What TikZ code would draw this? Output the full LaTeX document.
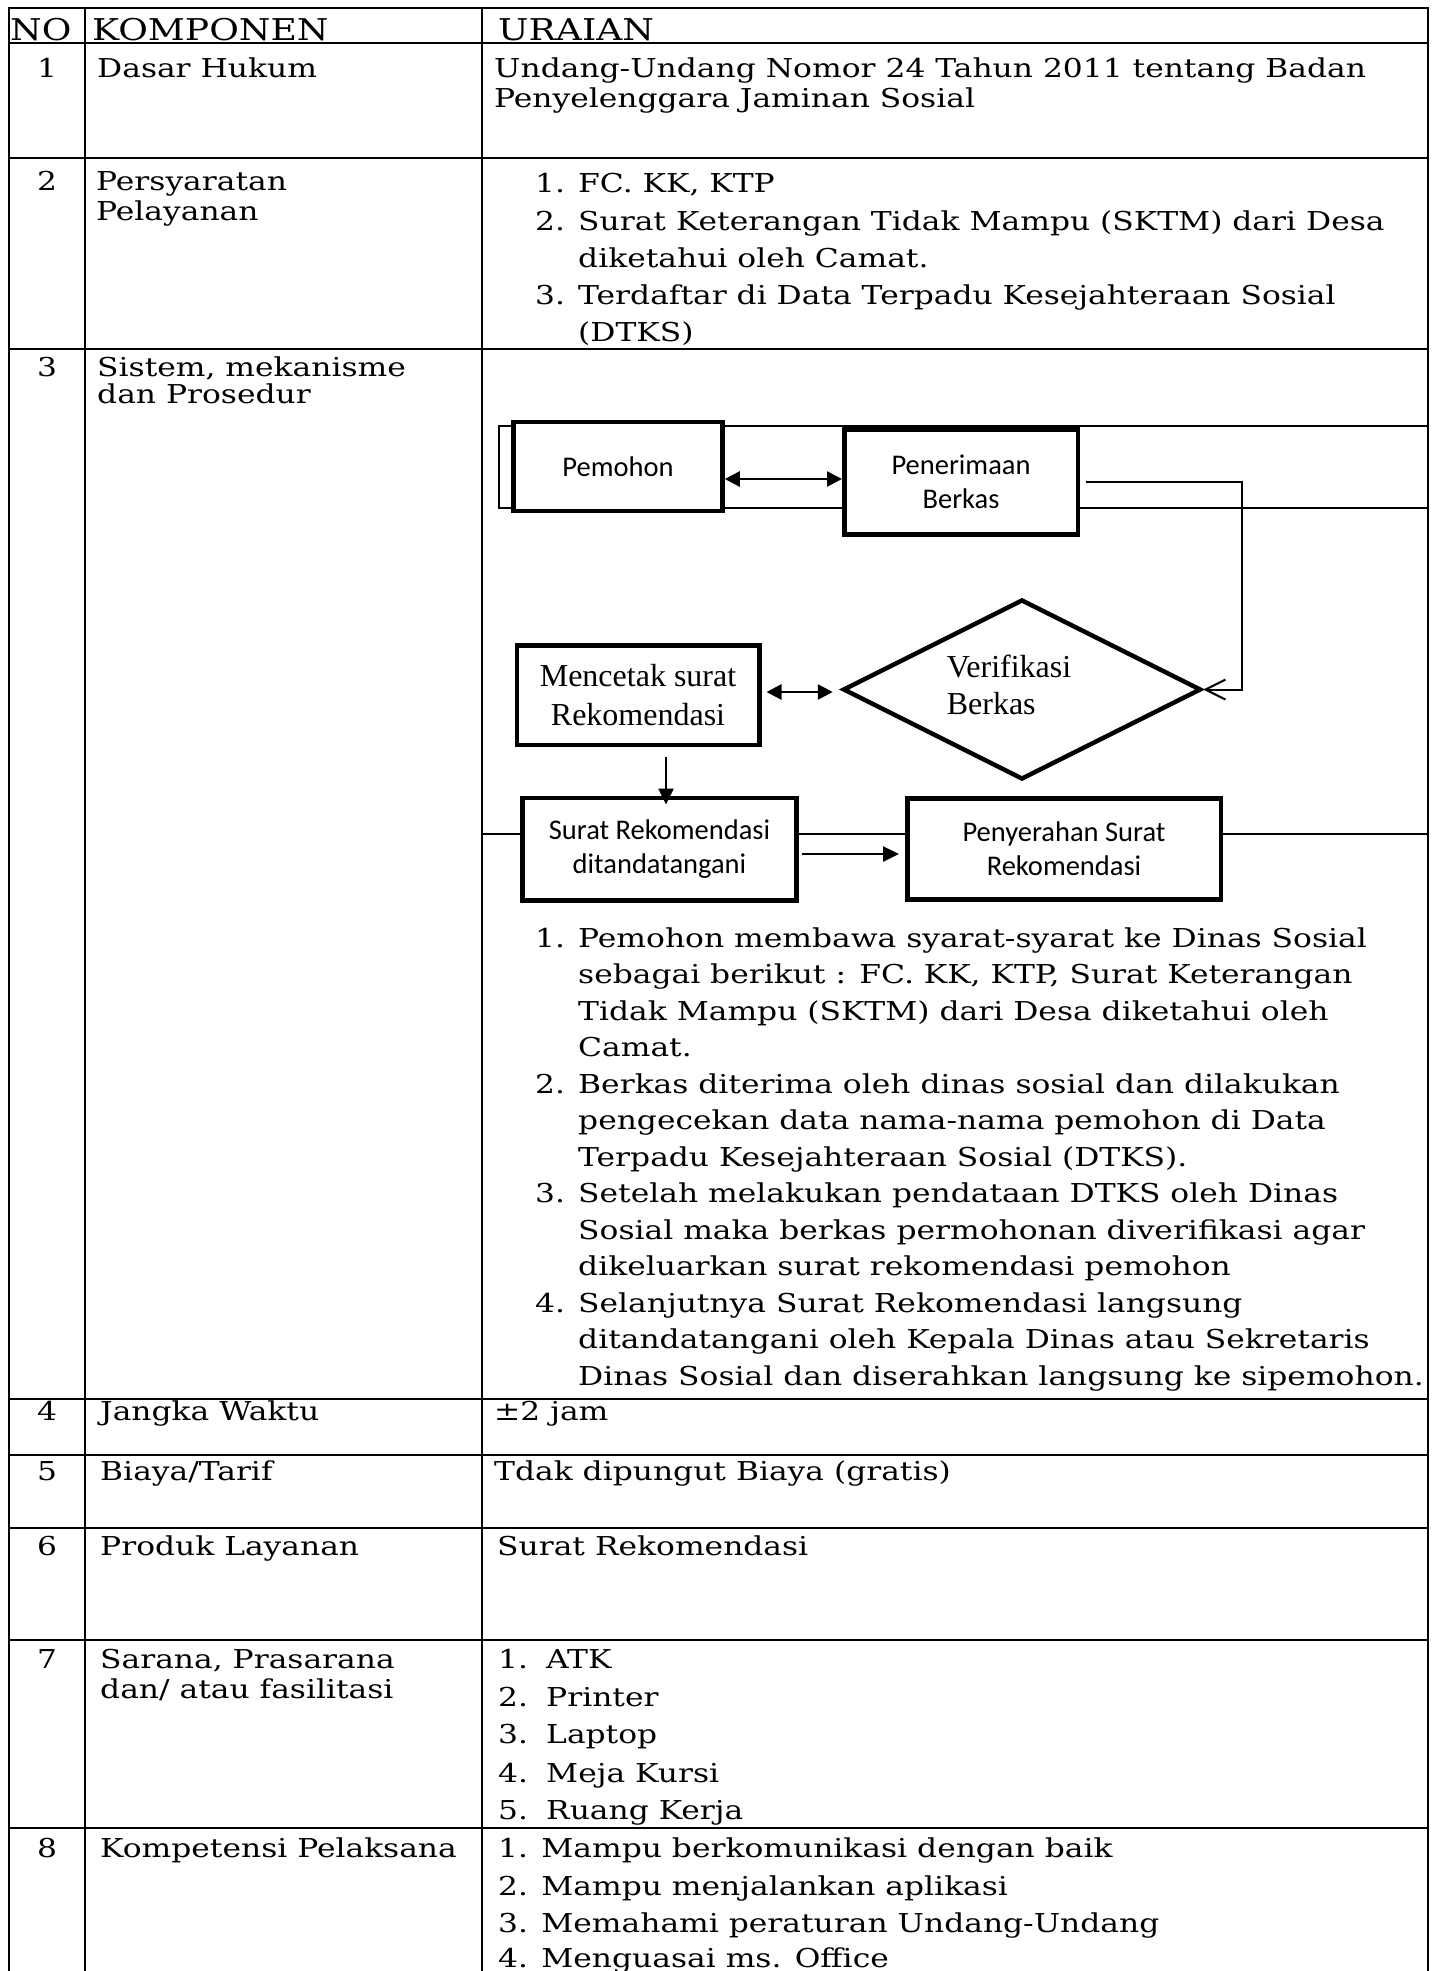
\documentclass[tikz,border=0pt]{standalone}
\usepackage{fontspec}
\newfontfamily\bodyf[FakeStretch=1.205]{DejaVu Serif}
\newfontfamily\calf{Carlito}
\newfontfamily\timesf{Liberation Serif}
\usetikzlibrary{arrows.meta,shapes.geometric}
\tikzset{
  grid/.style={line width=2.5pt},
  thinl/.style={line width=2pt},
  txt/.style={inner sep=0pt, anchor=base west, font=\bodyf\fontsize{26pt}{30pt}\selectfont},
  num/.style={inner sep=0pt, anchor=base, font=\bodyf\fontsize{26pt}{30pt}\selectfont},
  hd/.style={inner sep=0pt, anchor=base west, font=\bodyf\fontsize{30pt}{34pt}\selectfont},
  cbox/.style={draw, line width=4.5pt, fill=white, inner sep=0pt, align=center, font=\calf\fontsize{28.5pt}{34pt}\selectfont},
  tbox/.style={draw, line width=4.5pt, fill=white, inner sep=0pt, align=center, font=\timesf\fontsize{32pt}{39pt}\selectfont},
  dia/.style={draw, diamond, aspect=2, line width=4.5pt, fill=white, inner sep=0pt, minimum width=358pt, minimum height=180pt},
  dbl/.style={{Triangle[length=15pt,width=15pt]}-{Triangle[length=15pt,width=15pt]}, line width=2.5pt},
  arr/.style={-{Triangle[length=16pt,width=15pt]}, line width=2.5pt},
  openarr/.style={-{Straight Barb[length=20pt,width=20pt]}, line width=2pt},
}
\begin{document}
\begin{tikzpicture}[x=1pt,y=-1pt]
\useasboundingbox (0,0) rectangle (1435,1971);
% table grid
\foreach \y in {8,43,158,349,1399,1455,1528,1640,1828}
  \draw[grid] (8,\y) -- (1429,\y);
\foreach \x in {9,85,482,1428}
  \draw[grid] (\x,7) -- (\x,1971);
% header
\node[hd] (hno) at (10,40) {NO};
\node[hd] (hkomp) at (92,40) {KOMPONEN};
\node[hd] (hur) at (498,40) {URAIAN};
% row numbers
\foreach \n/\y in {1/77,2/190,3/376,4/1420,5/1480,6/1555,7/1668,8/1857}
  \node[num] (no\n) at (47,\y) {\n};
% left column
\node[txt] (k1) at (97,77) {Dasar Hukum};
\node[txt] (k2a) at (96,190) {Persyaratan};
\node[txt] (k2b) at (96,220) {Pelayanan};
\node[txt] (k3a) at (97,376) {Sistem, mekanisme};
\node[txt] (k3b) at (97,403) {dan Prosedur};
\node[txt] (k4) at (100,1420) {Jangka Waktu};
\node[txt] (k5) at (100,1480) {Biaya/Tarif};
\node[txt] (k6) at (100,1555) {Produk Layanan};
\node[txt] (k7a) at (100,1668) {Sarana, Prasarana};
\node[txt] (k7b) at (100,1698) {dan/ atau fasilitasi};
\node[txt] (k8) at (100,1857) {Kompetensi Pelaksana};
% row 1
\node[txt] (u1a) at (494,77) {Undang-Undang Nomor 24 Tahun 2011 tentang Badan};
\node[txt] (u1b) at (494,107) {Penyelenggara Jaminan Sosial};
% row 2
\foreach \y/\n [count=\i] in {192/1.,230/2.,304/3.}
  \node[txt] (u2n\i) at (535,\y) {\n};
\foreach \y/\t [count=\i] in {192/{FC. KK, KTP},230/{Surat Keterangan Tidak Mampu (SKTM) dari Desa},267/{diketahui oleh Camat.},304/{Terdaftar di Data Terpadu Kesejahteraan Sosial},341/{(DTKS)}}
  \node[txt] (u2t\i) at (578,\y) {\t};
% row 3 list
\foreach \y/\n [count=\i] in {947/1.,1093/2.,1202.5/3.,1312/4.}
  \node[txt] (u3n\i) at (535,\y) {\n};
\foreach \y/\t [count=\i] in {947/{Pemohon membawa syarat-syarat ke Dinas Sosial},983.5/{sebagai berikut : FC. KK, KTP, Surat Keterangan},1020/{Tidak Mampu (SKTM) dari Desa diketahui oleh},1056.5/{Camat.},1093/{Berkas diterima oleh dinas sosial dan dilakukan},1129.5/{pengecekan data nama-nama pemohon di Data},1166/{Terpadu Kesejahteraan Sosial (DTKS).},1202.5/{Setelah melakukan pendataan DTKS oleh Dinas},1239/{Sosial maka berkas permohonan diverifikasi agar},1275.5/{dikeluarkan surat rekomendasi pemohon},1312/{Selanjutnya Surat Rekomendasi langsung},1348.5/{ditandatangani oleh Kepala Dinas atau Sekretaris},1385/{Dinas Sosial dan diserahkan langsung ke sipemohon.}}
  \node[txt] (u3t\i) at (578,\y) {\t};
% rows 4-6
\node[txt] (u4) at (494,1420) {±2 jam};
\node[txt] (u5) at (494,1480) {Tdak dipungut Biaya (gratis)};
\node[txt] (u6) at (497,1555) {Surat Rekomendasi};
% row 7
\foreach \y/\n [count=\i] in {1668/1.,1706/2.,1743/3.,1782/4.,1819/5.}
  \node[txt] (u7n\i) at (498,\y) {\n};
\foreach \y/\t [count=\i] in {1668/ATK,1706/Printer,1743/Laptop,1782/{Meja Kursi},1819/{Ruang Kerja}}
  \node[txt] (u7t\i) at (546,\y) {\t};
% row 8
\foreach \y/\t [count=\i] in {1857/{1. Mampu berkomunikasi dengan baik},1895/{2. Mampu menjalankan aplikasi},1932/{3. Memahami peraturan Undang-Undang},1967/{4. Menguasai ms. Office}}
  \node[txt] (u8t\i) at (498,\y) {\t};
% flowchart background lines
\draw[thinl] (1428,426) -- (499,426) -- (499,508) -- (1428,508);
\draw[thinl] (482,834) -- (1428,834);
% flowchart nodes
\node[cbox, minimum width=209pt, minimum height=89pt] (pem) at (618,466.5) {Pemohon};
\node[cbox, minimum width=233.5pt, minimum height=105pt] (pen) at (961,482) {Penerimaan\\Berkas};
\node[tbox, minimum width=242.5pt, minimum height=99.5pt] (mc) at (638,695) {Mencetak surat\\Rekomendasi};
\node[dia] (ver) at (1022,689.5) {};
\node[inner sep=0pt, align=left, font=\timesf\fontsize{32pt}{37pt}\selectfont] (vertxt) at (1009,684.5) {Verifikasi\\Berkas};
\node[cbox, minimum width=274pt, minimum height=102.5pt] (sr) at (659.5,849) {Surat Rekomendasi\\ditandatangani};
\node[cbox, minimum width=313.5pt, minimum height=101pt] (py) at (1064,849) {Penyerahan Surat\\Rekomendasi};
% connectors
\coordinate (a1) at (780,479);
\draw[dbl] (a1 -| pem.east) -- (a1 -| pen.west);
\coordinate (bend) at (1242,689.5);
\draw[openarr, shorten <=6pt] (pen.east) -| (bend) -- (ver.east);
\coordinate (a2) at (800,692);
\draw[dbl, shorten <=5pt, shorten >=8pt] (a2 -| mc.east) -- (a2 -| ver.west);
\coordinate (a3) at (666,700);
\draw[arr, shorten <=10pt, shorten >=-9pt] (a3 |- mc.south) -- (a3 |- sr.north);
\coordinate (a4) at (850,854);
\draw[arr, shorten <=3pt, shorten >=6pt] (a4 -| sr.east) -- (a4 -| py.west);
\end{tikzpicture}
\end{document}
